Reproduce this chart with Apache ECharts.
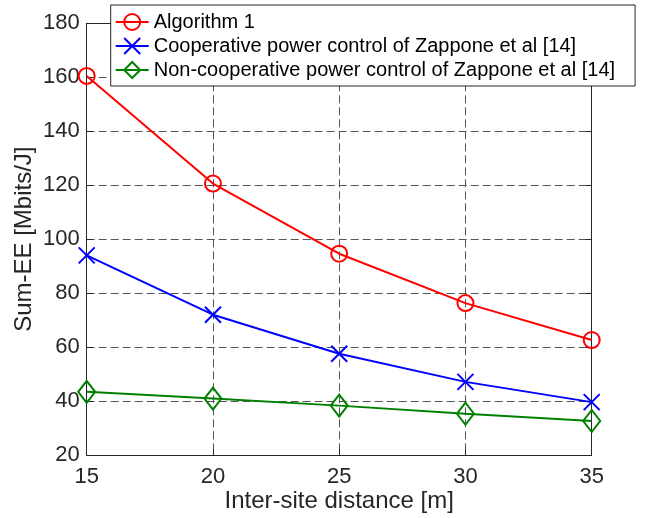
<!DOCTYPE html>
<html>
<head>
<meta charset="utf-8">
<script src="https://cdn.jsdelivr.net/npm/echarts@6/dist/echarts.min.js"></script>
<style>html,body{margin:0;padding:0;background:#fff}#c{width:647px;height:518px}</style>
</head>
<body>
<div id="c"></div>
<script>
var distances = [15, 20, 25, 30, 35];
var algorithm1 = [160.5, 120.6, 94.6, 76.3, 62.6];
var cooperative = [94, 72, 57.5, 47.1, 39.6];
var nonCooperative = [43.4, 40.9, 38.3, 35.3, 32.6];
var seriesNames = ['Algorithm 1', 'Cooperative power control of Zappone et al [14]', 'Non-cooperative power control of Zappone et al [14]'];

function pairs(vals){ return distances.map(function(d,i){ return [d, vals[i]]; }); }

var FONT = 'Liberation Sans';
var TXT = '#262626';
var chart = echarts.init(document.getElementById('c'), null, {renderer:'canvas'});

function axisCommon(show){
  return {
    axisLine:{show:true, onZero:false, lineStyle:{color:TXT, width:1}},
    axisTick:{show:true, inside:true, length:6, lineStyle:{color:TXT}},
    axisLabel:{show:show, color:TXT, fontFamily:FONT, fontSize:22},
    splitLine:{show:false}
  };
}

var xMain = Object.assign(axisCommon(true), {
  type:'value', min:15, max:35, interval:5, position:'bottom',
  name:'Inter-site distance [m]', nameLocation:'middle', nameGap:34, nameMoveOverlap:false,
  nameTextStyle:{color:TXT, fontFamily:FONT, fontSize:24},
  splitLine:{show:true, lineStyle:{color:'#555', type:[8,4], width:1}}
});
xMain.axisLabel.margin = 11;
var xTop = Object.assign(axisCommon(false), {type:'value', min:15, max:35, interval:5, position:'top'});
var yMain = Object.assign(axisCommon(true), {
  type:'value', min:20, max:180, interval:20, position:'left',
  name:'Sum-EE [Mbits/J]', nameLocation:'middle', nameGap:50, nameMoveOverlap:false,
  nameTextStyle:{color:TXT, fontFamily:FONT, fontSize:24},
  splitLine:{show:true, lineStyle:{color:'#555', type:[8,4], width:1}}
});
yMain.axisLabel.margin = 7;
var yRight = Object.assign(axisCommon(false), {type:'value', min:20, max:180, interval:20, position:'right'});

chart.setOption({
  animation:false,
  backgroundColor:'#fff',
  grid:{left:86.7, right:55.3, top:23.3, bottom:63, containLabel:false, outerBoundsMode:'none'},
  xAxis:[xMain, xTop],
  yAxis:[yMain, yRight],
  legend:{
    orient:'vertical', left:110.7, top:5,
    padding:[7,20,6,4], itemGap:4, itemWidth:33, itemHeight:20,
    backgroundColor:'#fff', borderColor:'#262626', borderWidth:1,
    textStyle:{color:'#000', fontFamily:FONT, fontSize:20, lineHeight:20},
    data:seriesNames
  },
  series:[
    {name:seriesNames[0], type:'line', data:pairs(algorithm1), xAxisIndex:0, yAxisIndex:0,
     symbol:'circle', symbolSize:16, color:'#ff0000',
     lineStyle:{color:'#ff0000', width:2},
     itemStyle:{color:'rgba(0,0,0,0)', borderColor:'#ff0000', borderWidth:2}, z:5},
    {name:seriesNames[1], type:'line', data:pairs(cooperative), xAxisIndex:0, yAxisIndex:0,
     symbol:'path://M0,0L10,10M10,0L0,10', symbolSize:16, color:'#0000ff',
     lineStyle:{color:'#0000ff', width:2},
     itemStyle:{color:'rgba(0,0,0,0)', borderColor:'#0000ff', borderWidth:2}, z:4},
    {name:seriesNames[2], type:'line', data:pairs(nonCooperative), xAxisIndex:0, yAxisIndex:0,
     symbol:'diamond', symbolSize:[17,22], color:'#008000',
     lineStyle:{color:'#008000', width:2},
     itemStyle:{color:'rgba(0,0,0,0)', borderColor:'#008000', borderWidth:2}, z:3}
  ]
});
</script>
</body>
</html>
